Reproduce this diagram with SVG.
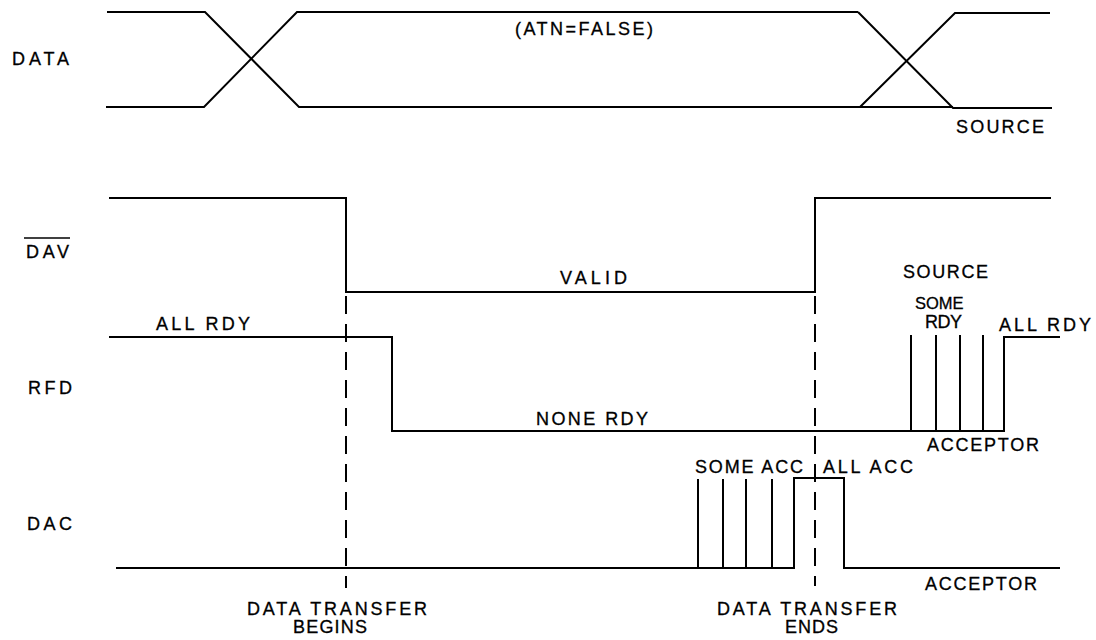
<svg xmlns="http://www.w3.org/2000/svg" width="1096" height="640" viewBox="0 0 1096 640">
<style>
.w{fill:none;stroke:#000;stroke-width:2;stroke-linejoin:miter}
.d{fill:none;stroke:#000;stroke-width:2;stroke-dasharray:18 10}
text{font-family:"Liberation Sans",Arial,sans-serif;font-size:18px;fill:#000;stroke:#000;stroke-width:0.3}
</style>
<rect width="1096" height="640" fill="#fff"/>
<g id="data">
<polyline class="w" points="107,12 205,12 299,107 860,107 953,107"/>
<polyline class="w" points="106,107 204,107 297,12 858,12"/>
<polyline class="w" points="858,12 953,108 1052,108"/>
<polyline class="w" points="860,107 955,13 1050,13"/>
<text x="12" y="65" textLength="57" lengthAdjust="spacing">DATA</text>
<text x="515" y="35" textLength="138" lengthAdjust="spacing">(ATN=FALSE)</text>
<text x="956" y="133" textLength="88" lengthAdjust="spacing">SOURCE</text>
</g>
<g id="dav">
<polyline class="w" points="109,198 346,198 346,292 815,292 815,198 1051,198"/>
<line x1="24" y1="238" x2="70" y2="238" stroke="#000" stroke-width="1.5"/>
<text x="26" y="258" textLength="43" lengthAdjust="spacing">DAV</text>
<text x="560" y="284" textLength="67" lengthAdjust="spacing">VALID</text>
<text x="903" y="278" textLength="85" lengthAdjust="spacing">SOURCE</text>
</g>
<g id="rfd">
<polyline class="w" points="109,337 392,337 392,431 1004,431 1004,337 1060,337"/>
<line class="w" x1="911" y1="335" x2="911" y2="431"/>
<line class="w" x1="936" y1="335" x2="936" y2="431"/>
<line class="w" x1="960" y1="335" x2="960" y2="431"/>
<line class="w" x1="983" y1="335" x2="983" y2="431"/>
<text x="156" y="330" textLength="94" lengthAdjust="spacing">ALL RDY</text>
<text x="28" y="394" textLength="44" lengthAdjust="spacing">RFD</text>
<text x="536" y="425" textLength="112" lengthAdjust="spacing">NONE RDY</text>
<text x="915" y="309" style="font-size:16.5px">SOME</text>
<text x="925" y="328" textLength="37" lengthAdjust="spacing">RDY</text>
<text x="999" y="331" textLength="92" lengthAdjust="spacing">ALL RDY</text>
<text x="927" y="451" textLength="112" lengthAdjust="spacing">ACCEPTOR</text>
</g>
<g id="dac">
<polyline class="w" points="116,568 794,568 794,478 844,478 844,568 1060,568"/>
<line class="w" x1="698" y1="479" x2="698" y2="568"/>
<line class="w" x1="723" y1="479" x2="723" y2="568"/>
<line class="w" x1="746" y1="479" x2="746" y2="568"/>
<line class="w" x1="772" y1="479" x2="772" y2="568"/>
<text x="27" y="530" textLength="45" lengthAdjust="spacing">DAC</text>
<text x="695" y="473" textLength="108" lengthAdjust="spacing">SOME ACC</text>
<text x="823" y="473" textLength="90" lengthAdjust="spacing">ALL ACC</text>
<text x="925" y="590" textLength="112" lengthAdjust="spacing">ACCEPTOR</text>
</g>
<g id="connectors">
<line class="d" x1="346" y1="296" x2="346" y2="588"/>
<line class="d" x1="815" y1="296" x2="815" y2="586"/>
</g>
<g id="markers">
<text x="247" y="615" textLength="180" lengthAdjust="spacing">DATA TRANSFER</text>
<text x="293" y="633" textLength="74" lengthAdjust="spacing">BEGINS</text>
<text x="717" y="615" textLength="180" lengthAdjust="spacing">DATA TRANSFER</text>
<text x="785" y="633" textLength="53" lengthAdjust="spacing">ENDS</text>
</g>
</svg>
